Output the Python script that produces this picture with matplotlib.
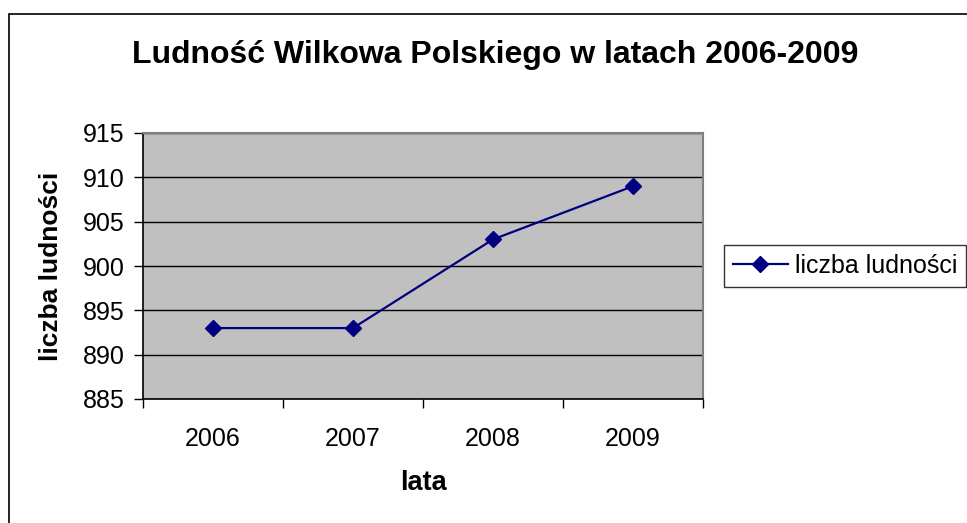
import matplotlib
matplotlib.use('Agg')
from matplotlib import pyplot as plt
from matplotlib.patches import Rectangle
import numpy as np

# dane
lata = ['2006', '2007', '2008', '2009']
ludnosc = [893, 893, 903, 909]
y_ticks = [885, 890, 895, 900, 905, 910, 915]

plt.rcParams['font.family'] = ['Liberation Sans', 'DejaVu Sans']

fig = plt.figure(figsize=(9.67, 5.23), dpi=100)
fig.patch.set_facecolor('white')

# ramka wykresu (wychodzi poza obraz z prawej i z dołu)
fig.patches.append(Rectangle((9 / 967, -0.05), 1.2, 1 - 13.5 / 523 + 0.05,
                             transform=fig.transFigure, fill=False,
                             edgecolor='black', linewidth=1.2, zorder=0))

ax = fig.add_axes([143 / 967, 1 - 399 / 523, 560 / 967, 266 / 523])
ax.set_facecolor('#c0c0c0')

x = np.arange(len(lata))
ax.plot(x, ludnosc, color='#000080', linewidth=1.6, marker='D',
        markersize=8.5, label='liczba ludności', zorder=3)

ax.set_xlim(-0.5, len(lata) - 0.5)
ax.set_ylim(885, 915)
ax.set_yticks(y_ticks)
ax.set_xticks(x)
ax.set_xticklabels(lata)
ax.set_xticks(np.arange(len(lata) + 1) - 0.5, minor=True)
ax.tick_params(axis='x', which='major', length=0, pad=20, labelsize=18)
ax.tick_params(axis='x', which='minor', length=6.5, width=1, direction='out')
ax.tick_params(axis='y', length=6.5, width=1, direction='out', labelsize=18, pad=7)

ax.yaxis.grid(True, color='black', linewidth=1)
ax.set_axisbelow(True)

for s in ['top', 'right']:
    ax.spines[s].set_color('#808080')
    ax.spines[s].set_linewidth(1.5)
for s in ['left', 'bottom']:
    ax.spines[s].set_color('black')
    ax.spines[s].set_linewidth(1.2)

ax.set_xlabel('lata', fontsize=19.5, fontweight='bold', labelpad=14)
ax.set_ylabel('liczba ludności', fontsize=19, fontweight='bold', labelpad=14)

fig.text(495 / 967, 1 - 55 / 523, 'Ludność Wilkowa Polskiego w latach 2006-2009',
         ha='center', va='center', fontsize=23, fontweight='bold')

leg = ax.legend(loc='center left', bbox_to_anchor=(724 / 967, 1 - 266 / 523),
                bbox_transform=fig.transFigure, fontsize=18, frameon=True,
                fancybox=False, edgecolor='black', handlelength=2.2,
                borderpad=0.35, handletextpad=0.3, borderaxespad=0)
leg.get_frame().set_linewidth(1)

plt.savefig('out.png', dpi=100)
plt.close(fig)
